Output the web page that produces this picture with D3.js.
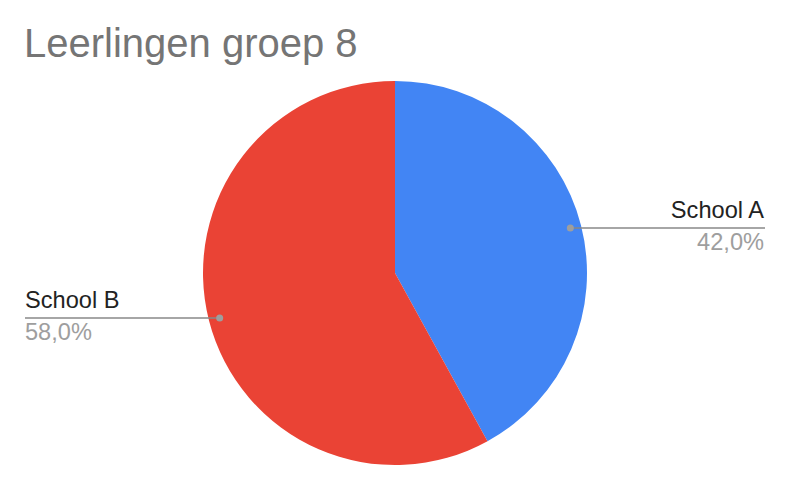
<!DOCTYPE html>
<html>
<head>
<meta charset="utf-8">
<script src="https://cdn.jsdelivr.net/npm/d3@7"></script>
<style>
  body { margin: 0; background: #fff; }
  svg { font-family: Arial, "Liberation Sans", sans-serif; }
</style>
</head>
<body>
<svg id="chart"></svg>
<script>
// Chart data
const categories = ['School A', 'School B'];
const values = [42, 58];
const percentLabels = ['42,0%', '58,0%'];
const colors = ['#4285f4', '#ea4335'];

const width = 790, height = 490;
const cx = 395, cy = 273, radius = 192;

const svg = d3.select('#chart')
    .attr('width', width)
    .attr('height', height);

svg.append('text')
    .attr('x', 24)
    .attr('y', 57)
    .attr('fill', '#757575')
    .style('font-size', '40px')
    .text('Leerlingen groep 8');

const data = categories.map((c, i) => ({name: c, value: values[i], pct: percentLabels[i], color: colors[i]}));

const pie = d3.pie()
    .value(d => d.value)
    .sort(null);

const arcs = pie(data);

const arc = d3.arc()
    .innerRadius(0)
    .outerRadius(radius);

// dot anchor sits a bit inside the rim
const dotArc = d3.arc()
    .innerRadius(radius - 11)
    .outerRadius(radius - 11);

const chart = svg.append('g')
    .attr('transform', `translate(${cx},${cy})`);

chart.selectAll('.slice')
    .data(arcs)
    .join('path')
    .attr('class', 'slice')
    .attr('d', arc)
    .attr('fill', d => d.data.color);

// Labels with leader lines
const leftX = 25 - cx, rightX = 765 - cx;

arcs.forEach(d => {
  const [px, py] = dotArc.centroid(d);
  const right = px > 0;
  const endX = right ? rightX : leftX;
  const anchor = right ? 'end' : 'start';

  chart.append('line')
      .attr('x1', px).attr('y1', py)
      .attr('x2', endX).attr('y2', py)
      .attr('stroke', '#888')
      .attr('stroke-width', 1.5);

  chart.append('circle')
      .attr('cx', px).attr('cy', py)
      .attr('r', 3.5)
      .attr('fill', '#9e9e9e');

  chart.append('text')
      .attr('x', right ? endX - 1 : endX).attr('y', py - 10)
      .attr('text-anchor', anchor)
      .attr('fill', '#222')
      .style('font-size', '23.6px')
      .text(d.data.name);

  chart.append('text')
      .attr('x', right ? endX - 1 : endX).attr('y', py + 22)
      .attr('text-anchor', anchor)
      .attr('fill', '#9e9e9e')
      .style('font-size', '23.6px')
      .text(d.data.pct);
});
</script>
</body>
</html>
